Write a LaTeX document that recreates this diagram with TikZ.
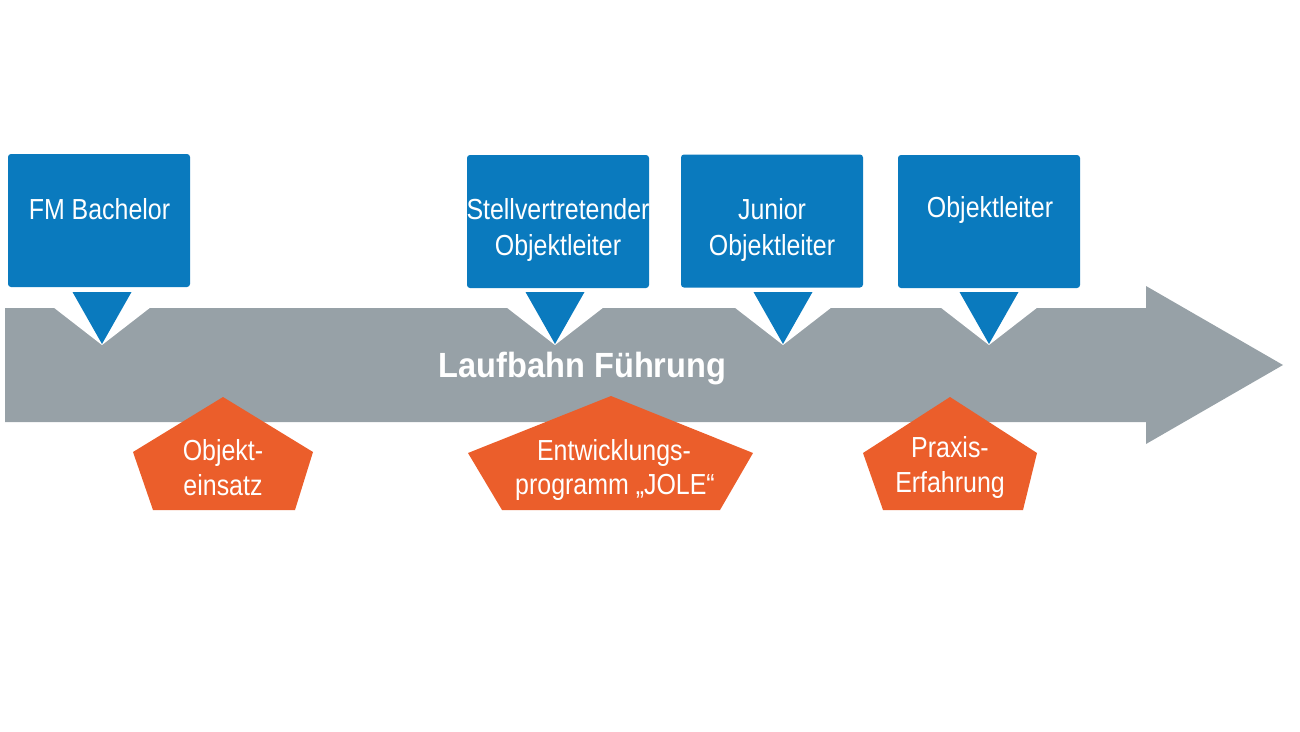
\documentclass[tikz,border=0pt]{standalone}
\usepackage{fontspec}
\setmainfont{Liberation Sans}
\newfontfamily\narrowfont{Liberation Sans}[FakeStretch=0.86]
\newfontfamily\titlefont{Liberation Sans}[FakeStretch=0.93]
\definecolor{fmblue}{HTML}{0A7ABE}
\definecolor{fmgray}{HTML}{97A1A7}
\definecolor{fmorange}{HTML}{EB5E2B}
\begin{document}
\begin{tikzpicture}[x=1pt,y=-1pt,
  bluebox/.style={fill=fmblue, rounded corners=3pt, inner sep=0pt, minimum width=182pt, minimum height=133pt},
  lbl/.style={text=white, font=\narrowfont\fontsize{29}{36}\selectfont, anchor=base, inner sep=0pt},
  ttl/.style={text=white, font=\titlefont\bfseries\fontsize{35}{40}\selectfont, anchor=base, inner sep=0pt},
  notch/.style={fill=white},
  pointer/.style={fill=fmblue},
  penta/.style={fill=fmorange}]
\useasboundingbox (0,0) rectangle (1300,731);
% main arrow
\fill[fmgray] (5,308) -- (1146,308) -- (1146,286) -- (1283,365) -- (1146,444) -- (1146,422) -- (5,422) -- cycle;
% notches and pointers
\foreach \t in {102,555,783,989}{
  \fill[notch] (\t-49,307) -- (\t+49,307) -- (\t,345) -- cycle;
  \fill[pointer] (\t-29.5,292) -- (\t+29.5,292) -- (\t,344) -- cycle;
}
% boxes
\node[bluebox] (b1) at (99,220.5) {};
\node[bluebox] (b2) at (558,221.5) {};
\node[bluebox] (b3) at (772,221) {};
\node[bluebox] (b4) at (989,221.5) {};
\node[lbl] (t1) at (99.5,219) {FM Bachelor};
\node[lbl] (t2a) at (558,219) {Stellvertretender};
\node[lbl] (t2b) at (558,255) {Objektleiter};
\node[lbl] (t3a) at (772,219) {Junior};
\node[lbl] (t3b) at (772,255) {Objektleiter};
\node[lbl] (t4) at (990,217) {Objektleiter};
% pentagons
\fill[penta] (223,397) -- (313,452) -- (295,510) -- (153,510) -- (133,452) -- cycle;
\fill[penta] (611,396) -- (753,453) -- (720,510) -- (502,510) -- (468,453) -- cycle;
\fill[penta] (950,397) -- (1037,453) -- (1023,510) -- (883,510) -- (863,453) -- cycle;
\node[lbl] (p1a) at (223,460) {Objekt-};
\node[lbl] (p1b) at (223,495) {einsatz};
\node[lbl] (p2a) at (614,460) {Entwicklungs-};
\node[lbl] (p2b) at (615,494) {programm „JOLE“};
\node[lbl] (p3a) at (950,457) {Praxis-};
\node[lbl] (p3b) at (950,492) {Erfahrung};
% title
\node[ttl] (title) at (582.5,377) {Laufbahn Führung};
\end{tikzpicture}
\end{document}
